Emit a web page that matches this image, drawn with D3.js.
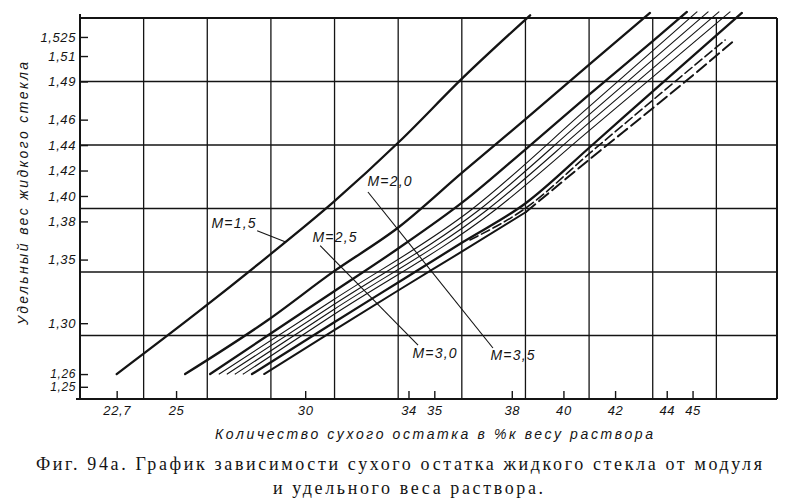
<!DOCTYPE html>
<html>
<head>
<meta charset="utf-8">
<script src="https://cdn.jsdelivr.net/npm/d3@7"></script>
<style>
  body { margin: 0; background: #fff; }
  svg { display: block; }
</style>
</head>
<body>
<div id="grafik"></div>
<script>
// ---- данные (сухой остаток %, удельный вес) ----
const xTicks = [22.7, 25, 30, 34, 35, 38, 40, 42, 44, 45];
const xTickLabels = ["22,7", "25", "30", "34", "35", "38", "40", "42", "44", "45"];
const yTicks = [1.25, 1.26, 1.30, 1.35, 1.38, 1.40, 1.42, 1.44, 1.46, 1.49, 1.51, 1.525];
const yTickLabels = ["1,25", "1,26", "1,30", "1,35", "1,38", "1,40", "1,42", "1,44", "1,46", "1,49", "1,51", "1,525"];

const m15 = [[22.7, 1.26], [26.05, 1.312], [28.52, 1.352], [31.08, 1.395], [33.71, 1.444], [36.11, 1.493], [38.71, 1.542]];
const m20 = [[25.35, 1.26], [28.56, 1.3025], [31.08, 1.3403], [33.63, 1.3756], [36.11, 1.4189], [38.59, 1.4613], [41.03, 1.5038], [43.35, 1.5439]];
const m25 = [[26.32, 1.26], [28.52, 1.2899], [31.08, 1.3245], [33.63, 1.3591], [36.11, 1.3953], [38.59, 1.4377], [41.03, 1.4802], [43.47, 1.5219], [44.78, 1.5447]];
// тонкая штриховка между М=2,5 и М=3,0
const hatch1 = [[26.67, 1.26], [31.08, 1.3182], [36.42, 1.389], [41.03, 1.4708], [45.17, 1.5447]];
const hatch2 = [[26.98, 1.26], [31.08, 1.3143], [36.73, 1.389], [41.03, 1.4645], [45.60, 1.5447]];
const hatch3 = [[27.29, 1.26], [31.08, 1.3104], [37.04, 1.389], [41.03, 1.4582], [46.02, 1.5447]];
const hatch4 = [[27.60, 1.26], [31.08, 1.3064], [37.35, 1.389], [41.03, 1.4519], [46.45, 1.5447]];
const m30 = [[27.94, 1.26], [31.08, 1.3002], [33.63, 1.3324], [36.11, 1.3638], [38.55, 1.3945], [41.03, 1.4385], [43.47, 1.4825], [46.91, 1.5439]];
const m30m35 = [[36.38, 1.3654], [38.55, 1.3906], [41.03, 1.4338], [43.47, 1.4755], [46.26, 1.5226]];
const m35 = [[28.41, 1.26], [31.08, 1.2939], [33.63, 1.3261], [36.11, 1.3568], [38.55, 1.3874], [41.03, 1.4291], [43.47, 1.4692], [45.17, 1.4975], [46.64, 1.5226]];
const m35SolidTo = 38.55; // дальше линия М=3,5 пунктиром

const labels = [
  { text: "М=1,5", x: 27.25, s: 1.3789 },
  { text: "М=2,5", x: 31.16, s: 1.368 },
  { text: "М=2,0", x: 33.29, s: 1.4117 },
  { text: "М=3,0", x: 35.03, s: 1.2766 },
  { text: "М=3,5", x: 38.05, s: 1.275 }
];
const leaders = [
  [[28.14, 1.3727], [29.22, 1.3641]],
  [[30.58, 1.3609], [34.37, 1.2828]],
  [[32.43, 1.4031], [37.27, 1.2805]]
];

const xTitle = "Количество сухого остатка в %к весу раствора";
const yTitle = "Удельный вес жидкого стекла";
const caption1 = "Фиг. 94а. График зависимости сухого остатка  жидкого  стекла от  модуля";
const caption2 = "и удельного веса раствора.";

// ---- разметка ----
const width = 800, height = 498;
const pole = { left: 80, right: 777, top: 18, bottom: 399 };
const ink = "#141414";
const drafting = "'Liberation Sans', 'DejaVu Sans', sans-serif";
const serif = "'Liberation Serif', 'DejaVu Serif', serif";

const svg = d3.select("#grafik").append("svg")
  .attr("width", width)
  .attr("height", height);

svg.append("rect").attr("width", width).attr("height", height).attr("fill", "#fff");

const x = d3.scaleLinear().domain([21.28, 48.27]).range([pole.left, pole.right]);
const y = d3.scaleLinear().domain([1.2404, 1.5399]).range([pole.bottom, pole.top]);

// квадратная сетка, не привязанная к значениям шкал
const gx = d3.scaleLinear().domain([0, 11]).range([pole.left, 780]);
const gy = d3.scaleLinear().domain([0, 6]).range([pole.top, pole.bottom]);

const setka = svg.append("g").attr("stroke", ink).attr("stroke-width", 1.3);
setka.selectAll(".v").data(d3.range(1, 11)).join("line")
  .attr("x1", d => gx(d)).attr("x2", d => gx(d))
  .attr("y1", pole.top).attr("y2", pole.bottom);
setka.selectAll(".h").data(d3.range(1, 6)).join("line")
  .attr("x1", pole.left).attr("x2", pole.right)
  .attr("y1", d => gy(d)).attr("y2", d => gy(d));

// рамка
const ramka = svg.append("g").attr("stroke", ink).attr("stroke-width", 2).attr("fill", "none");
ramka.append("line").attr("x1", pole.left).attr("x2", pole.left).attr("y1", pole.top - 4).attr("y2", pole.bottom);
ramka.append("line").attr("x1", pole.left - 4).attr("x2", pole.right).attr("y1", pole.bottom).attr("y2", pole.bottom);
ramka.append("line").attr("x1", pole.left).attr("x2", pole.right).attr("y1", pole.top).attr("y2", pole.top);
ramka.append("line").attr("x1", pole.right).attr("x2", pole.right).attr("y1", pole.top).attr("y2", pole.bottom);

// оси
const osY = svg.append("g")
  .attr("transform", `translate(${pole.left},0)`)
  .call(d3.axisLeft(y).tickValues(yTicks).tickFormat((d, i) => yTickLabels[i])
    .tickSizeInner(-8).tickSizeOuter(0).tickPadding(4));
const osX = svg.append("g")
  .attr("transform", `translate(0,${pole.bottom})`)
  .call(d3.axisBottom(x).tickValues(xTicks).tickFormat((d, i) => xTickLabels[i])
    .tickSizeInner(-8).tickSizeOuter(0).tickPadding(7));

[osY, osX].forEach(os => {
  os.select(".domain").remove();
  os.selectAll(".tick line").attr("stroke", ink).attr("stroke-width", 1.4);
  os.selectAll(".tick text")
    .attr("fill", ink)
    .style("font-family", drafting)
    .style("font-style", "italic")
    .style("font-size", "13px")
    .style("letter-spacing", "0.6px");
});
// у 1,26 и 1,25 подписи стоят вплотную — чуть мельче
osY.selectAll(".tick text").filter(d => d < 1.27).style("font-size", "12px");

// кривые
const line = d3.line()
  .x(d => x(d[0]))
  .y(d => y(d[1]))
  .curve(d3.curveMonotoneX);

const krivye = svg.append("g").attr("fill", "none").attr("stroke", ink).attr("stroke-linecap", "round");

[m15, m20, m25, m30].forEach(d => {
  krivye.append("path").attr("d", line(d)).attr("stroke-width", 2.3);
});
[hatch1, hatch2, hatch3, hatch4].forEach(d => {
  krivye.append("path").attr("d", line(d)).attr("stroke-width", 1.1);
});
krivye.append("path")
  .attr("d", line(m30m35))
  .attr("stroke-width", 1.6)
  .attr("stroke-dasharray", "9,4");
krivye.append("path")
  .attr("d", line(m35.filter(d => d[0] <= m35SolidTo)))
  .attr("stroke-width", 2);
krivye.append("path")
  .attr("d", line(m35.filter(d => d[0] >= m35SolidTo)))
  .attr("stroke-width", 2)
  .attr("stroke-dasharray", "12,5");

// выноски и подписи модуля
svg.append("g").attr("stroke", ink).attr("stroke-width", 1.1)
  .selectAll("line").data(leaders).join("line")
  .attr("x1", d => x(d[0][0])).attr("y1", d => y(d[0][1]))
  .attr("x2", d => x(d[1][0])).attr("y2", d => y(d[1][1]));

svg.append("g").selectAll("text").data(labels).join("text")
  .attr("x", d => x(d.x))
  .attr("y", d => y(d.s))
  .attr("dy", "0.35em")
  .attr("text-anchor", "middle")
  .attr("fill", ink)
  .style("font-family", drafting)
  .style("font-style", "italic")
  .style("font-size", "14px")
  .style("letter-spacing", "1.2px")
  .text(d => d.text);

// названия осей
svg.append("text")
  .attr("x", 215).attr("y", 439)
  .attr("textLength", 438).attr("lengthAdjust", "spacing")
  .attr("fill", ink)
  .style("font-family", drafting)
  .style("font-style", "italic")
  .style("font-size", "14px")
  .text(xTitle);

svg.append("text")
  .attr("transform", "translate(28,325) rotate(-90)")
  .attr("textLength", 263).attr("lengthAdjust", "spacing")
  .attr("fill", ink)
  .style("font-family", drafting)
  .style("font-style", "italic")
  .style("font-size", "14px")
  .text(yTitle);

// подпись к рисунку
svg.append("text")
  .attr("x", 36).attr("y", 470)
  .attr("textLength", 726).attr("lengthAdjust", "spacing")
  .attr("fill", ink)
  .style("font-family", serif)
  .style("font-size", "18px")
  .text(caption1);
svg.append("text")
  .attr("x", 273).attr("y", 494)
  .attr("textLength", 270).attr("lengthAdjust", "spacing")
  .attr("fill", ink)
  .style("font-family", serif)
  .style("font-size", "18px")
  .text(caption2);
</script>
</body>
</html>
